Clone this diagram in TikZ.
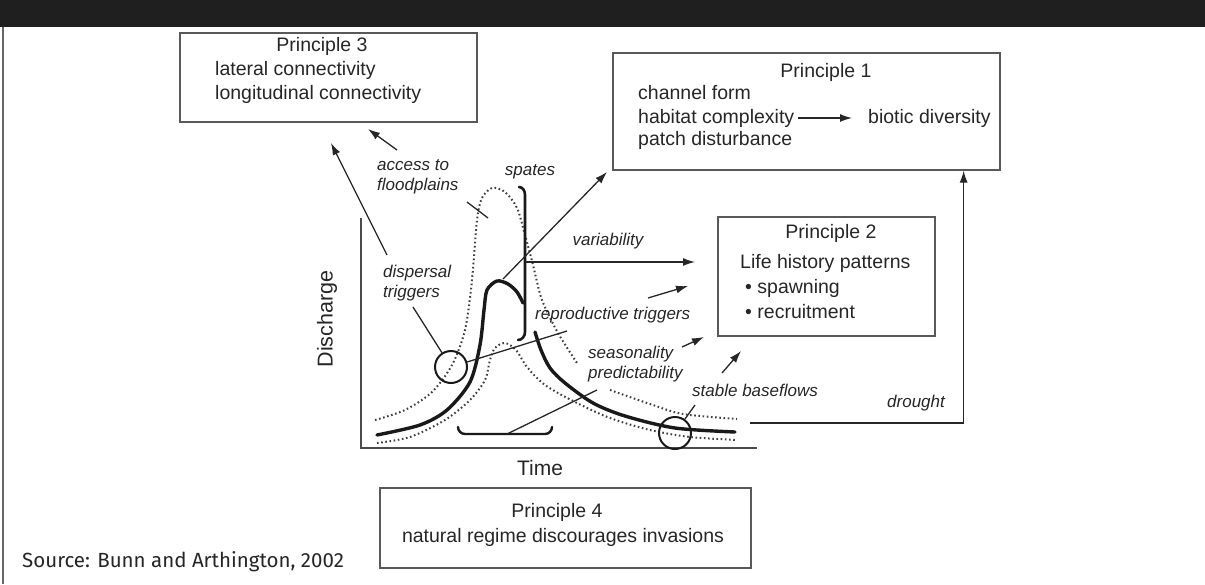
\documentclass[tikz,border=0pt]{standalone}
\usepackage{fontspec}
\setmainfont{Liberation Sans}
\newfontfamily\srcfont{Fira Sans}
\usetikzlibrary{arrows.meta}

\begin{document}
\begin{tikzpicture}[x=1pt,y=-1pt,
    box/.style={draw=black!65,line width=1.3pt,inner sep=0pt},
    txt/.style={text=black!85,font=\fontsize{19.5}{23}\selectfont,inner sep=0pt},
    lbl/.style={text=black!85,font=\fontsize{17}{20}\selectfont\itshape,inner sep=0pt},
    arr/.style={draw=black!85,line width=1.3pt,-{Latex[length=12pt,width=8pt]}},
    flow/.style={draw=black!90,line width=3.4pt,line cap=round},
    envl/.style={draw=black!75,line width=2pt,dash pattern=on 1.6pt off 2.6pt},
    ring/.style={draw=black!90,line width=2pt,circle,minimum size=32pt,inner sep=0pt}]

    % Frame and title bar
    \useasboundingbox (0,0) rectangle (1205,584);
    \fill[black!88] (0,0) rectangle (1205,27);
    \draw[black!60,line width=1.3pt] (3,27) -- (3,584);

    % Principle boxes
    \node[box,minimum width=297pt,minimum height=89pt] (p3) at (328.5,77.5) {};
    \node[box,minimum width=387pt,minimum height=117pt] (p1) at (806.5,111.5) {};
    \node[box,minimum width=217pt,minimum height=119pt] (p2) at (826.5,276.5) {};
    \node[box,minimum width=371pt,minimum height=80pt] (p4) at (565.5,528) {};

    % Box texts
    \node[txt] (p3t) at (322,46) {Principle 3};
    \node[txt,anchor=west] (lat) at (215,70) {lateral connectivity};
    \node[txt,anchor=west] (lon) at (215,94) {longitudinal connectivity};
    \node[txt] (p1t) at (826,72) {Principle 1};
    \node[txt,anchor=west] (chf) at (638,93) {channel form};
    \node[txt,anchor=west] (hab) at (638,118) {habitat complexity};
    \node[txt,anchor=west] (pat) at (638,140) {patch disturbance};
    \node[txt,anchor=west] (bio) at (868,118) {biotic diversity};
    \draw[arr] ([xshift=4pt]hab.east) -- ([xshift=-16pt]bio.west);
    \node[txt] (p2t) at (831,233) {Principle 2};
    \node[txt,anchor=west] (lhp) at (740,263) {Life history patterns};
    \node[txt,anchor=west] (spw) at (745,288) {• spawning};
    \node[txt,anchor=west] (rec) at (745,312) {• recruitment};
    \node[txt] (p4t) at (557,512) {Principle 4};
    \node[txt] (nat) at (563,537) {natural regime discourages invasions};

    % Axes
    \draw[black!70,line width=2pt] (361,218) -- (361,448) -- (757,448);
    \node[txt,font=\fontsize{21}{25}\selectfont] (tim) at (540,468) {Time};
    \node[txt,font=\fontsize{21.5}{25}\selectfont,rotate=90] (dis) at (327,319) {Discharge};

    % Flow envelopes (dotted)
    \draw[envl] plot[smooth] coordinates {(375,420) (405,410) (432,392) (452,365) (465,330)
        (472,280) (477,220) (482,198) (492,188) (505,192) (517,208) (525,235) (533,265)
        (542,300) (558,333) (577,363)};
    \draw[envl] plot[smooth] coordinates {(610,390) (650,404) (683,414) (737,419)};
    \draw[envl] plot[smooth] coordinates {(377,443) (410,437) (445,420) (470,400) (485,380)
        (490,360) (495,348) (505,343) (516,350) (527,367) (545,385) (575,402) (610,418)
        (650,430) (690,437) (737,440)};

    % Mean flow (thick)
    \draw[flow] plot[smooth] coordinates {(377,435) (420,425) (447,410) (470,382) (480,345)
        (484,310) (487,290) (497,281) (508,284) (517,292) (523,303)};
    \draw[flow] plot[smooth] coordinates {(535,332) (541,350) (550,368) (565,383) (593,403)
        (625,416) (675,428) (735,432)};
    \draw[flow,line width=2.6pt] (519,187) to[out=0,in=90] (525,195) -- (525,332)
        to[out=-90,in=0] (518,340);
    \draw[flow,line width=2.4pt] (458,427) to[out=-90,in=180] (465,434) -- (545,434)
        to[out=0,in=-90] (552,427);

    % Circles
    \node[ring] (c1) at (451,367) {};
    \node[ring] (c2) at (675,433) {};

    % Flow labels
    \node[lbl,anchor=west,align=left] (acc) at (377,177) {access to\\floodplains};
    \node[lbl] (spa) at (530,172) {spates};
    \node[lbl] (var) at (608,241) {variability};
    \node[lbl,anchor=west,align=left] (dsp) at (383,283) {dispersal\\triggers};
    \node[lbl,anchor=west] (rep) at (535,315) {reproductive triggers};
    \node[lbl,anchor=west,align=left] (sea) at (588,364) {seasonality\\predictability};
    \node[lbl,anchor=west] (sbf) at (692,390) {stable baseflows};
    \node[lbl,anchor=west] (drt) at (887,403) {drought};

    % Connectors
    \coordinate (dspA) at (387,255); \coordinate (p3A) at (331,143);
    \coordinate (accA) at (397,150); \coordinate (p3B) at (368,129);
    \coordinate (fpA) at (467,202);  \coordinate (fpB) at (488,218);
    \coordinate (dspB) at (413,307); \coordinate (repA) at (567,331);
    \coordinate (repB) at (648,298); \coordinate (p2A) at (688,286);
    \coordinate (spA) at (503,279);  \coordinate (p1A) at (607,172);
    \coordinate (varA) at (525,262); \coordinate (p2B) at (695,262);
    \coordinate (seaA) at (682,347); \coordinate (p2C) at (704,337);
    \coordinate (prA) at (597,390);  \coordinate (brk) at (507,434);
    \coordinate (sbfA) at (695,405);
    \coordinate (sbfB) at (722,373); \coordinate (p2D) at (741,351);
    \coordinate (drA) at (750,423);
    \draw[arr] (dspA) -- (p3A);
    \draw[arr] (accA) -- (p3B);
    \draw[black!85,line width=1.3pt] (fpA) -- (fpB);
    \draw[black!85,line width=1.3pt] (dspB) -- (c1);
    \draw[black!85,line width=1.3pt] (c1) -- (repA);
    \draw[arr] (repB) -- (p2A);
    \draw[arr] (spA) -- (p1A);
    \draw[arr] (varA) -- (p2B);
    \draw[arr] (seaA) -- (p2C);
    \draw[black!85,line width=1.3pt] (prA) -- (brk);
    \draw[black!85,line width=1.3pt] (sbfA) -- (c2);
    \draw[arr] (sbfB) -- (p2D);
    \draw[arr] (drA) -| ([xshift=-37pt]p1.south east);

    % Source
    \node[anchor=west,inner sep=0pt,text=black!85,font=\srcfont\fontsize{20.5}{24}\selectfont]
        (src) at (22,562) {Source: Bunn and Arthington, 2002};
\end{tikzpicture}
\end{document}
